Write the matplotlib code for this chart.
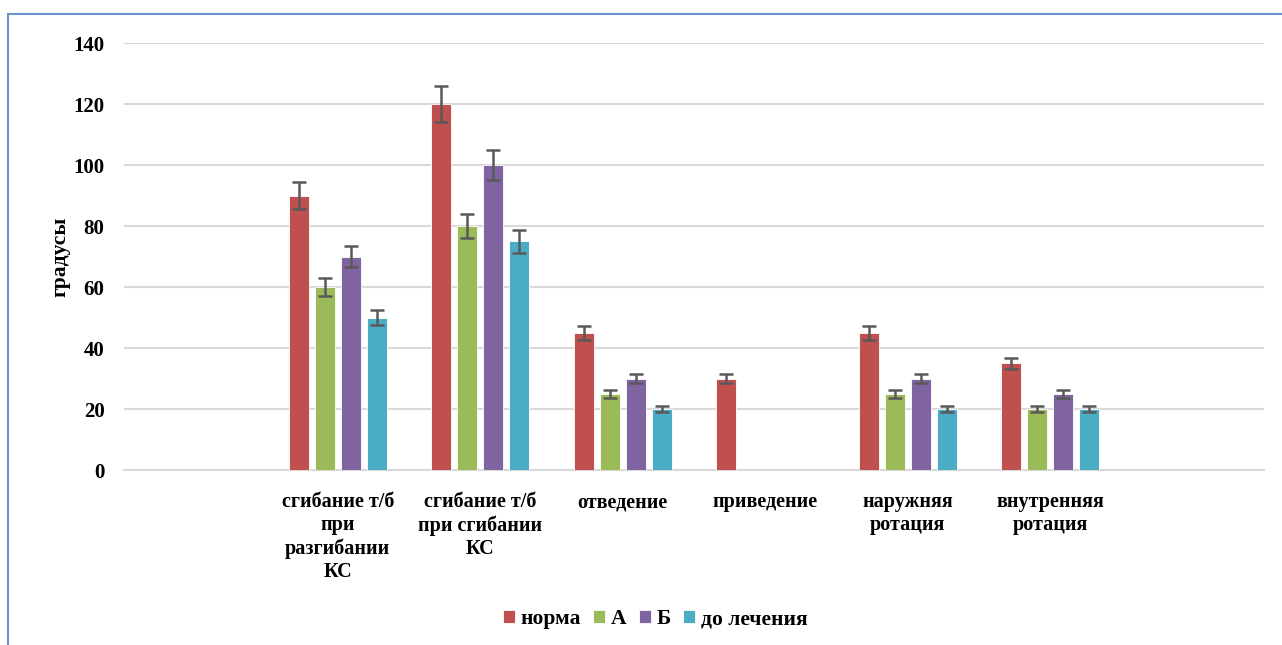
import numpy as np
import matplotlib.pyplot as plt
from matplotlib.lines import Line2D

plt.rcParams['font.family'] = ['Liberation Serif', 'DejaVu Serif']
plt.rcParams['font.weight'] = 'bold'

#       <--- DATA --->
#------------------------------------------------------------------------------
categories = ["", "сгибание т/б\nпри\nразгибании\nКС", "сгибание т/б\nпри сгибании\nКС",
              "отведение", "приведение", "наружняя\nротация", "внутренняя\nротация", ""]

series_names = ["норма", "А", "Б", "до лечения"]
norma      = [np.nan, 90, 120, 45, 30, 45, 35, np.nan]
group_a    = [np.nan, 60, 80, 25, np.nan, 25, 20, np.nan]
group_b    = [np.nan, 70, 100, 30, np.nan, 30, 25, np.nan]
do_lech    = [np.nan, 50, 75, 20, np.nan, 20, 20, np.nan]

err_norma  = [0, 4.5, 6, 2.25, 1.5, 2.25, 1.75, 0]
err_a      = [0, 3, 4, 1.25, 0, 1.25, 1, 0]
err_b      = [0, 3.5, 5, 1.5, 0, 1.5, 1.25, 0]
err_do     = [0, 2.5, 3.75, 1, 0, 1, 1, 0]

colors = ["#C0504D", "#9BBB59", "#8064A2", "#4BACC6"]

#       <--- PLOT --->
#------------------------------------------------------------------------------
fig = plt.figure(figsize=(12.82, 6.45), dpi=100)
ax = fig.add_axes([0.0967, 0.2713, 0.8893, 0.662])

x = np.arange(len(categories))
width = 0.14
pitch = 0.182
all_vals = [norma, group_a, group_b, do_lech]
all_errs = [err_norma, err_a, err_b, err_do]

for i, (vals, errs) in enumerate(zip(all_vals, all_errs)):
    pos = x + (i - 1.5) * pitch
    vals = np.array(vals, dtype=float)
    errs = np.array(errs, dtype=float)
    mask = ~np.isnan(vals)
    ax.bar(pos[mask], vals[mask], width, color=colors[i], label=series_names[i],
           edgecolor="white", linewidth=0.6, zorder=3)
    ax.errorbar(pos[mask], vals[mask], yerr=errs[mask], fmt="none",
                ecolor="#595959", elinewidth=1.8, capsize=5, capthick=1.8, zorder=4)

ax.set_xlim(-0.5, len(categories) - 0.5)
ax.set_ylim(0, 140)
ax.set_yticks(range(0, 141, 20))
ax.yaxis.grid(True, color="#d9d9d9", linewidth=1.5, zorder=0)
ax.set_axisbelow(True)
for s in ["top", "right", "left"]:
    ax.spines[s].set_visible(False)
ax.spines["bottom"].set_color("#d9d9d9")
ax.spines["bottom"].set_linewidth(1.5)
ax.tick_params(axis="both", length=0, labelsize=15)
ax.tick_params(axis="y", pad=14)
ax.tick_params(axis="x", pad=16)
ax.set_xticks(x)
ax.set_xticklabels(categories, fontsize=14.5, fontweight="bold", linespacing=1.2, va="top")
ax.set_ylabel("градусы", fontsize=15.5, fontweight="bold", labelpad=2)

ax.legend(loc="center", bbox_to_anchor=(0.5 - 39 / 1140, -0.349), ncol=4, frameon=False,
          handlelength=0.55, handleheight=0.55, handletextpad=0.25,
          columnspacing=0.6, prop={"weight": "bold", "size": 15.5})

# border of the chart area
fig.add_artist(Line2D([8 / 1282, 1], [1 - 14 / 645, 1 - 14 / 645], transform=fig.transFigure,
                      color="#6d93cc", linewidth=1.5))
fig.add_artist(Line2D([8 / 1282, 8 / 1282], [0, 1 - 14 / 645], transform=fig.transFigure,
                      color="#6d93cc", linewidth=1.5))

fig.savefig("out.png", dpi=100)
